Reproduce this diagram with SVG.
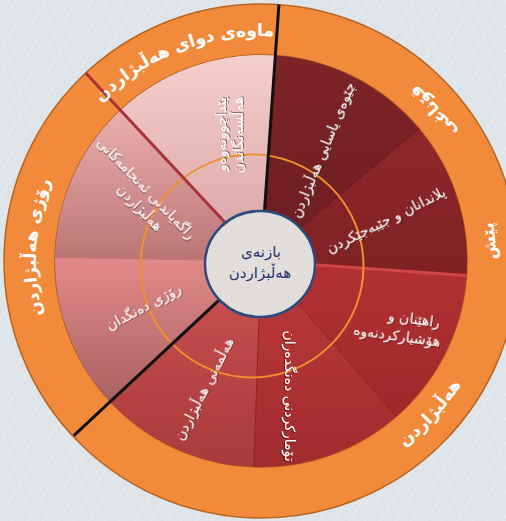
<svg xmlns="http://www.w3.org/2000/svg" width="506" height="521" viewBox="0 0 506 521">
  <defs>
    <pattern id="hatch" width="13" height="13" patternUnits="userSpaceOnUse" patternTransform="rotate(32)">
      <line x1="0" y1="0" x2="0" y2="13" stroke="#ffffff" stroke-width="1" opacity="0.6"/>
    </pattern>
    <linearGradient id="g1" x1="0" y1="0" x2="0" y2="1"><stop offset="0" stop-color="#7e2427"/><stop offset="1" stop-color="#6b1d20"/></linearGradient>
    <linearGradient id="g2" x1="0" y1="0" x2="0" y2="1"><stop offset="0" stop-color="#8e272a"/><stop offset="1" stop-color="#7f2124"/></linearGradient>
    <linearGradient id="g3" x1="0" y1="0" x2="0" y2="1"><stop offset="0" stop-color="#b33234"/><stop offset="1" stop-color="#9e2729"/></linearGradient>
    <linearGradient id="g4" x1="0" y1="0" x2="0" y2="1"><stop offset="0" stop-color="#bd3a3c"/><stop offset="1" stop-color="#a12b2d"/></linearGradient>
    <linearGradient id="g5" x1="0" y1="0" x2="0" y2="1"><stop offset="0" stop-color="#cc5252"/><stop offset="1" stop-color="#a93a3b"/></linearGradient>
    <linearGradient id="g6" x1="0" y1="0" x2="0" y2="1"><stop offset="0" stop-color="#e38a89"/><stop offset="1" stop-color="#a86263"/></linearGradient>
    <linearGradient id="g7" x1="0" y1="0" x2="0" y2="1"><stop offset="0" stop-color="#eab0af"/><stop offset="1" stop-color="#bb7474"/></linearGradient>
    <linearGradient id="g8" x1="0" y1="0" x2="0" y2="1"><stop offset="0" stop-color="#f5cfcd"/><stop offset="1" stop-color="#d6a3a3"/></linearGradient>
    <filter id="sh" x="-10%" y="-10%" width="120%" height="120%">
      <feDropShadow dx="1" dy="1" stdDeviation="0.7" flood-color="#000" flood-opacity="0.45"/>
    </filter>
    <path id="arcPost" d="M 49.6 184 A 225 225 0 0 1 373.5 66.1"/>
    <path id="arcDay" d="M 106.1 424.2 A 225 225 0 0 1 127.2 80.1"/>
    <path id="arcStage" d="M 493.1 297.8 A 235 235 0 0 0 256.9 26.0"/>
    <path id="arcPre" d="M 427.2 427.2 A 235 235 0 0 0 395.8 68.5"/>
    <path id="arcElec" d="M 252.8 495.9 A 235 235 0 0 0 493.7 228.3"/>
  </defs>
  <style>
    .ring-t { font-family: "DejaVu Sans", sans-serif; font-size: 17px; font-weight: bold; fill: #ffffff; }
    .w-t { font-family: "DejaVu Sans", sans-serif; font-size: 14px; fill: #ffffff; filter: url(#sh); }
    .c-t { font-family: "DejaVu Sans", sans-serif; font-size: 15px; fill: #2c3570; }
    .sep { stroke-width: 3; fill: none; }
  </style>

  <rect width="506" height="521" fill="#dfe4e9"/>
  <rect width="506" height="521" fill="url(#hatch)"/>

  <g id="ring">
    <circle cx="261" cy="261" r="257" fill="#f28a3b" stroke="#b5651f" stroke-width="1.5"/>
    <circle cx="261" cy="261" r="206" fill="#f28a3b" stroke="#a85a1c" stroke-width="1.5"/>
  </g>

  <g id="wedge-legal">
    <path d="M 261 261 L 275.4 55.5 A 206 206 0 0 1 418.8 128.6 Z" fill="url(#g1)"/>
  </g>
  <g id="wedge-planning">
    <path d="M 261 261 L 418.8 128.6 A 206 206 0 0 1 466.5 275.4 Z" fill="url(#g2)"/>
  </g>
  <g id="wedge-training">
    <path d="M 261 261 L 466.5 275.4 A 206 206 0 0 1 396.2 416.5 Z" fill="url(#g3)"/>
  </g>
  <g id="wedge-registration">
    <path d="M 261 261 L 396.2 416.5 A 206 206 0 0 1 253.8 466.9 Z" fill="url(#g4)"/>
  </g>
  <g id="wedge-campaign">
    <path d="M 261 261 L 253.8 466.9 A 206 206 0 0 1 110.3 401.5 Z" fill="url(#g5)"/>
  </g>
  <g id="wedge-voting">
    <path d="M 261 261 L 110.3 401.5 A 206 206 0 0 1 55.0 257.4 Z" fill="url(#g6)"/>
  </g>
  <g id="wedge-results">
    <path d="M 261 261 L 55.0 257.4 A 206 206 0 0 1 120.5 110.3 Z" fill="url(#g7)"/>
  </g>
  <g id="wedge-review">
    <path d="M 261 261 L 120.5 110.3 A 206 206 0 0 1 275.4 55.5 Z" fill="url(#g8)"/>
  </g>

  <g id="dividers">
    <line x1="261" y1="261" x2="418.8" y2="128.6" stroke="#5e1719" stroke-width="1"/>
    <line x1="261" y1="261" x2="466.5" y2="275.4" stroke="#d04545" stroke-width="3"/>
    <line x1="261" y1="261" x2="396.2" y2="416.5" stroke="#8a2224" stroke-width="1"/>
    <line x1="261" y1="261" x2="253.8" y2="466.9" stroke="#8a2224" stroke-width="1"/>
    <line x1="261" y1="261" x2="55.0" y2="257.4" stroke="#c07878" stroke-width="1"/>
  </g>

  <circle id="inner-ring" cx="252" cy="266" r="111.5" fill="none" stroke="#f0902f" stroke-width="2"/>

  <g id="phase-lines">
    <line class="sep" x1="261" y1="261" x2="278.9" y2="4.6" stroke="#111111"/>
    <line class="sep" x1="261" y1="261" x2="73.8" y2="435.6" stroke="#111111"/>
    <line class="sep" x1="261" y1="261" x2="85.7" y2="73.0" stroke="#a8343a"/>
  </g>

  <g id="ring-labels">
    <text class="ring-t"><textPath href="#arcPost" startOffset="49%" text-anchor="middle">ماوەی دوای هەڵبژاردن</textPath></text>
    <text class="ring-t"><textPath href="#arcDay" startOffset="50%" text-anchor="middle">رۆژی هەڵبژاردن</textPath></text>
    <text class="ring-t"><textPath href="#arcStage" startOffset="50%" text-anchor="middle">قۆناغی</textPath></text>
    <text class="ring-t"><textPath href="#arcPre" startOffset="50%" text-anchor="middle">پێش</textPath></text>
    <text class="ring-t"><textPath href="#arcElec" startOffset="50%" text-anchor="middle">هەڵبژاردن</textPath></text>
  </g>

  <g id="label-legal">
    <text class="w-t" x="323" y="155" text-anchor="middle" transform="rotate(-67.5 323 150)">چێوەی یاسایی هەڵبژاردن</text>
  </g>
  <g id="label-planning">
    <text class="w-t" x="386" y="225" text-anchor="middle" transform="rotate(-26.5 386 220)">پلاندانان و جێبەجێکردن</text>
  </g>
  <g id="label-training">
    <text class="w-t" text-anchor="middle" transform="rotate(8 400 328)">
      <tspan x="415" y="322">راهێنان و</tspan>
      <tspan x="398" y="341">هۆشیارکردنەوە</tspan>
    </text>
  </g>
  <g id="label-registration">
    <text class="w-t" x="290" y="401" text-anchor="middle" transform="rotate(90 290 396)">تۆمارکردنی دەنگدەران</text>
  </g>
  <g id="label-campaign">
    <text class="w-t" x="204" y="394" text-anchor="middle" transform="rotate(-62.8 204 389)">هەڵمەتی هەڵبژاردن</text>
  </g>
  <g id="label-voting">
    <text class="w-t" x="143" y="312" text-anchor="middle" font-size="19" transform="rotate(-28 143 306)">رۆژی دەنگدان</text>
  </g>
  <g id="label-results">
    <text class="w-t" text-anchor="middle" transform="rotate(46 148 190)">
      <tspan x="148" y="195">راگەیاندنی ئەنجامەکانی</tspan>
      <tspan x="155" y="213">هەڵبژاردن</tspan>
    </text>
  </g>
  <g id="label-review">
    <text class="w-t" text-anchor="middle" transform="rotate(-90 230 135)">
      <tspan x="233" y="131">پێداچوونەوەو</tspan>
      <tspan x="230" y="148">هەڵسەنگاندن</tspan>
    </text>
  </g>

  <g id="center-node">
    <ellipse cx="260" cy="264" rx="55" ry="53" fill="#e2dedb" stroke="#2f4a7c" stroke-width="2.5"/>
    <text class="c-t" x="261" y="257" text-anchor="middle">بازنەی</text>
    <text class="c-t" x="260" y="278" text-anchor="middle">هەڵبژاردن</text>
  </g>
</svg>
